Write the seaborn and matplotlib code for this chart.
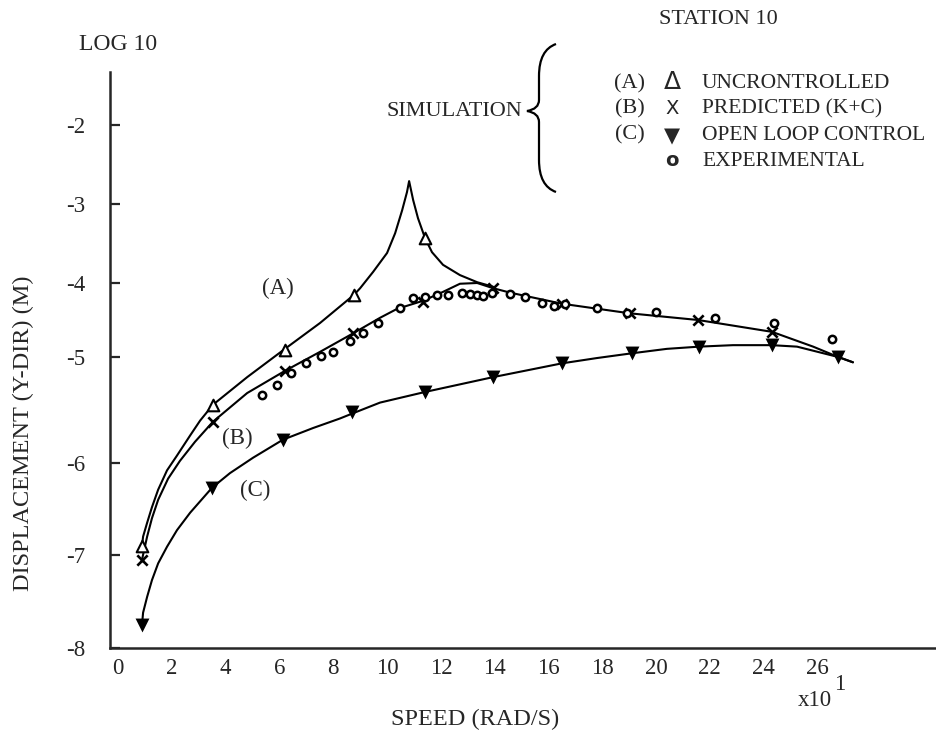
import numpy as np
import matplotlib
matplotlib.use("Agg")
import matplotlib.pyplot as plt
from matplotlib.path import Path
from matplotlib.patches import PathPatch
from matplotlib.ticker import FixedLocator
import seaborn as sns

# curve (A) uncontrolled - traced line and triangle markers
a_line_x = [0.89, 0.93, 1.08, 1.26, 1.49, 1.82, 2.19, 2.68, 3.05, 3.53, 4.80, 6.13, 7.51, 8.77, 9.00,
            9.48, 10.00, 10.30, 10.56, 10.74, 10.82, 10.97, 11.15, 11.41, 11.67, 12.08, 12.71, 13.35, 13.94]
a_line_y = [-6.90, -6.80, -6.65, -6.48, -6.29, -6.08, -5.93, -5.74, -5.60, -5.45, -5.19, -4.91, -4.54, -4.16, -4.07,
            -3.86, -3.62, -3.37, -3.08, -2.85, -2.71, -2.95, -3.18, -3.43, -3.61, -3.77, -3.90, -3.99, -4.05]
a_mark_x = [0.89, 3.53, 6.21, 8.77, 11.41]
a_mark_y = [-6.90, -5.45, -4.91, -4.16, -3.43]

# curve (B) predicted (K+C)
b_line_x = [0.89, 1.08, 1.26, 1.49, 1.86, 2.30, 2.86, 3.53, 4.80, 6.21, 7.51, 8.74, 9.74, 10.37,
            11.34, 12.08, 12.71, 13.35, 13.94, 14.57, 16.50, 19.03, 21.56, 24.31, 25.84, 26.77, 27.32]
b_line_y = [-7.05, -6.80, -6.60, -6.40, -6.17, -5.98, -5.80, -5.61, -5.34, -5.13, -4.93, -4.68, -4.47, -4.35,
            -4.24, -4.12, -4.01, -4.00, -4.07, -4.13, -4.28, -4.41, -4.50, -4.66, -4.86, -5.00, -5.05]
b_mark_x = [0.89, 3.53, 6.21, 8.74, 11.34, 13.94, 16.50, 19.03, 21.56, 24.31]
b_mark_y = [-7.05, -5.61, -5.13, -4.68, -4.26, -4.07, -4.28, -4.41, -4.50, -4.66]

# curve (C) open loop control
c_line_x = [0.89, 0.93, 1.08, 1.26, 1.49, 1.82, 2.19, 2.68, 3.49, 4.16, 5.02, 6.13, 7.25, 8.25, 8.74, 9.74,
            11.41, 13.94, 15.32, 16.50, 17.80, 19.10, 20.40, 21.60, 22.86, 24.30, 25.24, 26.77, 27.32]
c_line_y = [-7.75, -7.62, -7.45, -7.27, -7.09, -6.91, -6.73, -6.54, -6.27, -6.11, -5.95, -5.78, -5.67, -5.58, -5.53, -5.43,
            -5.33, -5.19, -5.12, -5.06, -5.01, -4.95, -4.89, -4.86, -4.84, -4.84, -4.86, -5.00, -5.05]
c_mark_x = [0.89, 3.49, 6.13, 8.70, 11.41, 13.94, 16.50, 19.10, 21.60, 24.30, 26.77]
c_mark_y = [-7.75, -6.27, -5.78, -5.52, -5.33, -5.19, -5.06, -4.95, -4.86, -4.84, -5.00]

# experimental points
exp_x = [5.35, 5.90, 6.43, 7.00, 7.55, 8.00, 8.62, 9.10, 9.67, 10.48, 10.97, 11.41, 11.86, 12.27, 12.79,
         13.09, 13.35, 13.57, 13.90, 14.57, 15.13, 15.76, 16.20, 16.62, 17.80, 18.92, 20.00, 22.19, 24.39, 26.54]
exp_y = [-5.36, -5.26, -5.15, -5.06, -4.99, -4.93, -4.78, -4.68, -4.54, -4.34, -4.20, -4.19, -4.16, -4.16, -4.14,
         -4.15, -4.16, -4.18, -4.14, -4.15, -4.19, -4.27, -4.31, -4.28, -4.34, -4.41, -4.39, -4.47, -4.54, -4.76]

x_ticks = list(range(0, 28, 2))
y_ticks = [-8, -7, -6, -5, -4, -3, -2]

sns.set_style("ticks")
plt.rcParams['font.family'] = ['Liberation Serif', 'DejaVu Sans']

W, H = 937, 735
fig = plt.figure(figsize=(W / 100, H / 100), dpi=100)
ax = fig.add_axes([110 / W, 1 - 648 / H, 825 / W, 576 / H])

# the hand-drawn y axis is not evenly spaced: map each labelled decade to where it sits on the paper
knot_vals = np.array([-8, -7, -6, -5, -4, -3, -2, -1.33])
knot_pos = np.array([0, 93, 185, 291, 365, 444, 523, 576], dtype=float)
ax.set_yscale('function', functions=(lambda v: np.interp(v, knot_vals, knot_pos),
                                     lambda p: np.interp(p, knot_pos, knot_vals)))

lw = 1.5
sns.lineplot(x=a_line_x, y=a_line_y, sort=False, estimator=None, color='black', lw=lw, ax=ax)
sns.lineplot(x=b_line_x, y=b_line_y, sort=False, estimator=None, color='black', lw=lw, ax=ax)
sns.lineplot(x=c_line_x, y=c_line_y, sort=False, estimator=None, color='black', lw=lw, ax=ax)

sns.scatterplot(x=a_mark_x, y=a_mark_y, marker='^', s=70, facecolor='white', edgecolor='black',
                linewidth=1.5, ax=ax, zorder=3)
sns.scatterplot(x=b_mark_x, y=b_mark_y, marker='x', s=55, color='black', linewidth=1.9, ax=ax, zorder=3)
sns.scatterplot(x=c_mark_x, y=c_mark_y, marker='v', s=100, color='black', linewidth=0, ax=ax, zorder=3)
sns.scatterplot(x=exp_x, y=exp_y, marker='o', s=28, facecolor='white', edgecolor='black',
                linewidth=1.8, ax=ax, zorder=4)

ax.set_xlim(-0.3, 30.37)
ax.set_ylim(-8, -1.33)
ax.set_xticks(x_ticks)
ax.set_xticklabels([str(t) for t in x_ticks])
ax.xaxis.set_minor_locator(FixedLocator([4, 8, 12, 16, 20, 24]))
ax.tick_params(axis='x', which='major', length=0, pad=7, labelsize=16.5)
ax.tick_params(axis='x', which='minor', direction='in', length=6, width=1.4)
ax.set_yticks(y_ticks)
ax.set_yticklabels([str(t) for t in y_ticks])
ax.yaxis.set_minor_locator(FixedLocator([]))
ax.tick_params(axis='y', direction='in', length=7, width=1.6, pad=18, labelsize=16.5)
for side in ['top', 'right']:
    ax.spines[side].set_visible(False)
for side in ['left', 'bottom']:
    ax.spines[side].set_linewidth(1.8)
ax.set_xlabel('')
ax.set_ylabel('')


def ftext(x, y, s, **kw):
    fig.text(x / W, 1 - y / H, s, **kw)


ftext(475, 719, 'SPEED (RAD/S)', ha='center', va='center', fontsize=17.5)
ftext(23, 433, 'DISPLACEMENT (Y-DIR) (M)', ha='center', va='center', rotation=90, fontsize=17.5)
ftext(118, 45, 'LOG 10', ha='center', va='center', fontsize=17)
ftext(815, 700, 'x10', ha='center', va='center', fontsize=16.5)
ftext(840, 685, '1', ha='center', va='center', fontsize=16.5)

ftext(278, 288, '(A)', ha='center', va='center', fontsize=16.5)
ftext(237, 438, '(B)', ha='center', va='center', fontsize=16.5)
ftext(255, 490, '(C)', ha='center', va='center', fontsize=16.5)

# legend block
ftext(718, 20, 'STATION 10', ha='center', va='center', fontsize=16)
ftext(522, 111, 'SIMULATION', ha='right', va='center', fontsize=16)
rows = [('(A)', 'UNCRONTROLLED', 84), ('(B)', 'PREDICTED (K+C)', 109),
        ('(C)', 'OPEN LOOP CONTROL', 135), ('', 'EXPERIMENTAL', 161)]
for tag, label, yy in rows:
    if tag:
        ftext(630, yy, tag, ha='center', va='center', fontsize=16)
    ftext(702, yy, label, ha='left', va='center', fontsize=15.5)
ftext(672, 82, '\u0394', ha='center', va='center', fontsize=18, family='DejaVu Sans')
ftext(672, 109, 'X', ha='center', va='center', fontsize=14, family='DejaVu Sans')
ftext(672, 136, '\u25bc', ha='center', va='center', fontsize=15, family='DejaVu Sans')
ftext(672, 161, 'o', ha='center', va='center', fontsize=14, fontweight='bold', family='DejaVu Sans')

# curly brace
bp = [(556, 44), (539, 50), (539, 76), (539, 100), (539, 109), (527, 111), (539, 113), (539, 122),
      (539, 160), (539, 186), (556, 192)]
codes = [Path.MOVETO, Path.CURVE3, Path.CURVE3, Path.LINETO, Path.CURVE3, Path.CURVE3,
         Path.CURVE3, Path.CURVE3, Path.LINETO, Path.CURVE3, Path.CURVE3]
brace = Path([(px / W, 1 - py / H) for px, py in bp], codes)
fig.add_artist(PathPatch(brace, fc='none', ec='black', lw=1.6, transform=fig.transFigure))

fig.savefig('out.png', dpi=100)
